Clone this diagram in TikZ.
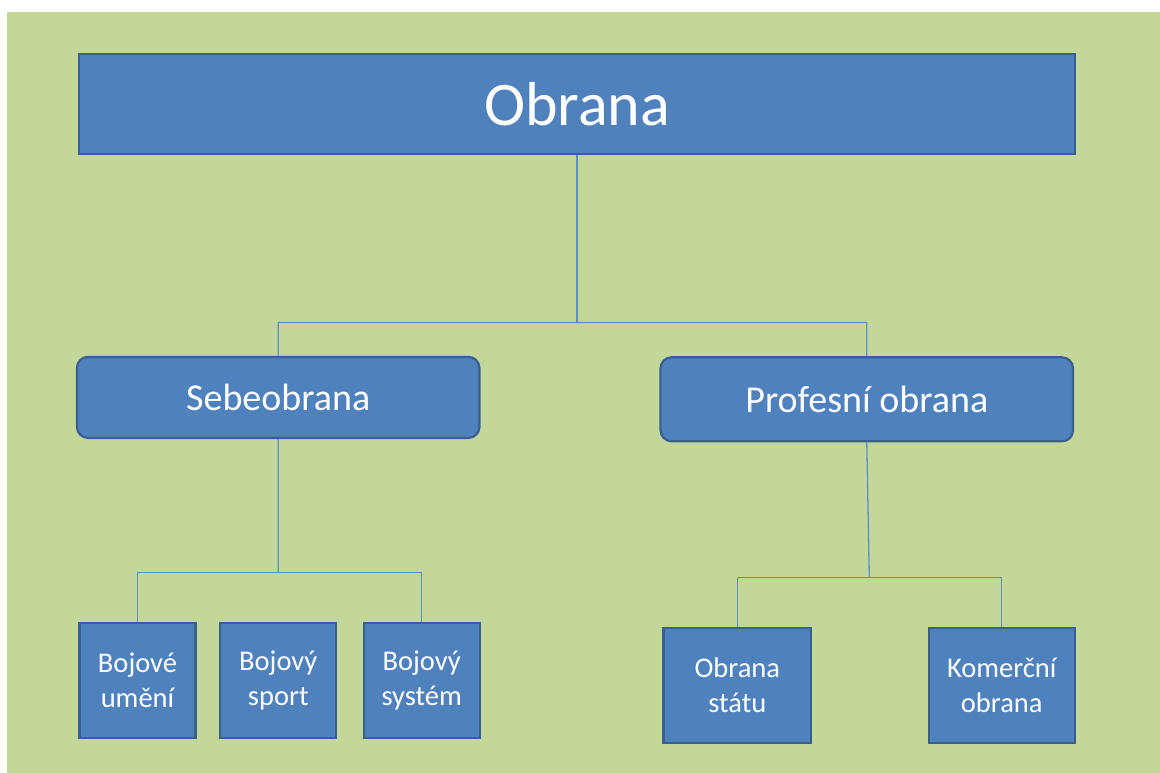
\documentclass[tikz,border=0pt]{standalone}
\usepackage{fontspec}
\setmainfont{Carlito}
\definecolor{bggreen}{HTML}{C4D79B}
\definecolor{boxfill}{HTML}{4F81BD}
\definecolor{boxline}{HTML}{3A5F8C}
\definecolor{connline}{HTML}{5E8EC4}
\tikzset{
  box/.style={draw=boxline, fill=boxfill, line width=2.2pt, text=white, inner sep=0pt, align=center, rectangle},
  roundbox/.style={box, rounded corners=11pt},
  conn/.style={draw=connline, line width=1.3pt},
  bigfont/.style={font=\fontsize{62}{74}\selectfont},
  midfont/.style={font=\fontsize{38}{46}\selectfont},
  smallfont/.style={font=\fontsize{28.5}{35}\selectfont},
}
\begin{document}
\begin{tikzpicture}[x=1pt,y=-1pt]
\useasboundingbox (0,0) rectangle (1160,773);
\fill[white] (0,0) rectangle (1160,773);
\fill[bggreen] (7,12) rectangle (1160,773);

\node[box, bigfont, minimum width=996, minimum height=100] (top) at (577,104) {Obrana};

\node[roundbox, midfont, minimum width=402.5, minimum height=81] (seb) at (278.2,397.4) {Sebeobrana};
\node[roundbox, midfont, minimum width=412.5, minimum height=84] (prof) at (866.8,399.3) {Profesní obrana};

\node[box, smallfont, minimum width=116, minimum height=115] (bu) at (137.5,680.5) {Bojové\\umění};
\node[box, smallfont, minimum width=116, minimum height=115] (bs) at (278.3,680.5) {Bojový\\sport};
\node[box, smallfont, minimum width=116, minimum height=115] (bsy) at (421.7,680.5) {Bojový\\systém};

\node[box, smallfont, minimum width=147.5, minimum height=115] (os) at (737.3,685.3) {Obrana\\státu};
\node[box, smallfont, minimum width=146, minimum height=115] (ko) at (1001.7,685.3) {Komerční\\obrana};

\coordinate (h1) at (278.3,322.5);
\coordinate (h2) at (866.7,322.5);
\coordinate (hm) at (577,322.5);
\draw[conn] (top.south) -- (hm);
\draw[conn] (seb.north) -- (h1) -- (h2) -- (prof.north);

\coordinate (l1) at (137.5,572.5);
\coordinate (l2) at (421.7,572.5);
\coordinate (lm) at (278.3,572.5);
\draw[conn] (seb.south) -- (lm);
\draw[conn] (bu.north) -- (l1) -- (l2) -- (bsy.north);

\coordinate (r1) at (737.3,577.3);
\coordinate (r2) at (1001.7,577.3);
\coordinate (rm) at (869.3,577.3);
\draw[conn] (prof.south) -- (rm);
\draw[conn] (os.north) -- (r1) -- (r2) -- (ko.north);
\end{tikzpicture}
\end{document}
